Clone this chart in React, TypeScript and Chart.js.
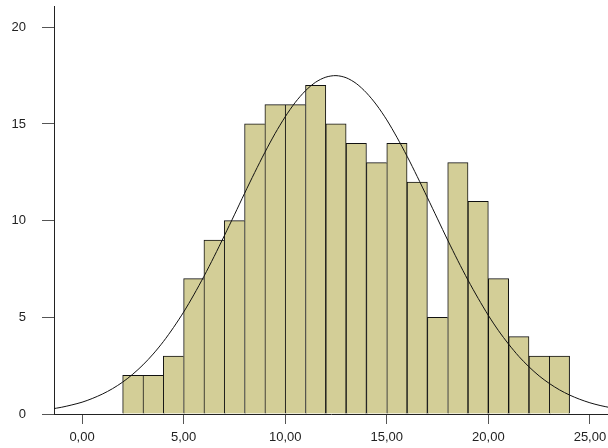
import React, { useEffect, useRef } from "react";
import { Chart, registerables } from "chart.js";

Chart.register(...registerables);

// Histogram bins (lower edges, width 1) and counts
const binStarts = [2, 3, 4, 5, 6, 7, 8, 9, 10, 11, 12, 13, 14, 15, 16, 17, 18, 19, 20, 21, 22, 23];
const binCounts = [2, 2, 3, 7, 9, 10, 15, 16, 16, 17, 15, 14, 13, 14, 12, 5, 13, 11, 7, 4, 3, 3];

// Fitted normal curve
const curveX = [
  -1.5, -1, -0.5, 0, 0.5, 1, 1.5, 2, 2.5, 3, 3.5, 4, 4.5, 5, 5.5, 6, 6.5, 7, 7.5, 8, 8.5, 9, 9.5, 10,
  10.5, 11, 11.5, 12, 12.5, 13, 13.5, 14, 14.5, 15, 15.5, 16, 16.5, 17, 17.5, 18, 18.5, 19, 19.5, 20,
  20.5, 21, 21.5, 22, 22.5, 23, 23.5, 24, 24.5, 25, 25.5, 26,
];
const curveY = [
  0.26, 0.35, 0.47, 0.61, 0.8, 1.03, 1.31, 1.65, 2.06, 2.54, 3.1, 3.74, 4.47, 5.27, 6.16, 7.12, 8.14,
  9.21, 10.3, 11.41, 12.49, 13.53, 14.5, 15.37, 16.12, 16.72, 17.16, 17.42, 17.5, 17.39, 17.09, 16.61,
  15.98, 15.21, 14.31, 13.33, 12.28, 11.19, 10.09, 8.99, 7.93, 6.92, 5.98, 5.1, 4.31, 3.61, 2.98, 2.44,
  1.97, 1.58, 1.25, 0.98, 0.76, 0.58, 0.44, 0.33,
];

const xTicks = [0, 5, 10, 15, 20, 25];
const yTicks = [0, 5, 10, 15, 20];

export default function App() {
  const ref = useRef<HTMLCanvasElement | null>(null);

  useEffect(() => {
    document.body.style.margin = "0";
    const canvas = ref.current;
    if (!canvas) return;
    const last = binCounts.length - 1;
    const chart = new Chart(canvas, {
      type: "bar",
      data: {
        datasets: [
          {
            type: "line",
            data: curveX.map((x, i) => ({ x, y: curveY[i] })),
            borderColor: "#111",
            borderWidth: 1,
            pointRadius: 0,
            tension: 0.3,
            fill: false,
            order: 0,
          } as any,
          {
            type: "bar",
            data: binStarts.map((s, i) => ({ x: s + 0.5, y: binCounts[i] })),
            backgroundColor: "#d3ce97",
            borderColor: "#111",
            borderWidth: (ctx: any) => {
              const i = ctx.dataIndex;
              const lowerNext = i === last || binCounts[i + 1] < binCounts[i];
              return { left: 1, top: 1, right: lowerNext ? 1 : 0, bottom: 0 };
            },
            borderSkipped: false,
            barPercentage: 1,
            categoryPercentage: 1,
            order: 1,
          } as any,
        ],
      },
      options: {
        animation: false,
        responsive: true,
        maintainAspectRatio: false,
        layout: { padding: { top: 6, right: 0, left: 0, bottom: 0 } },
        plugins: { legend: { display: false }, tooltip: { enabled: false } },
        scales: {
          x: {
            type: "linear",
            min: -1.38,
            max: 25.89,
            offset: false,
            afterBuildTicks: (axis: any) => {
              axis.ticks = xTicks.map((v) => ({ value: v }));
            },
            afterFit: (axis: any) => {
              axis.height = 34;
              axis.paddingLeft = 0;
              axis.paddingRight = 0;
            },
            grid: {
              offset: false,
              drawOnChartArea: false,
              drawTicks: true,
              tickLength: 10,
              color: "#555",
            },
            border: { color: "#222", width: 1 },
            ticks: {
              padding: 6,
              color: "#222",
              maxRotation: 0,
              font: { family: "'Liberation Sans', Arial, sans-serif", size: 13 },
              callback: (v: any) => Number(v).toFixed(2).replace(".", ","),
            },
          },
          y: {
            type: "linear",
            min: 0,
            max: 21.1,
            afterBuildTicks: (axis: any) => {
              axis.ticks = yTicks.map((v) => ({ value: v }));
            },
            afterFit: (axis: any) => {
              axis.width = 54;
              axis.paddingTop = 0;
              axis.paddingBottom = 0;
            },
            grid: {
              drawOnChartArea: false,
              drawTicks: true,
              tickLength: 12,
              color: "#555",
            },
            border: { color: "#222", width: 1 },
            ticks: {
              padding: 16,
              color: "#222",
              font: { family: "'Liberation Sans', Arial, sans-serif", size: 13 },
              callback: (v: any) => String(v),
            },
          },
        },
      } as any,
    });
    return () => chart.destroy();
  }, []);

  return (
    <div style={{ position: "absolute", left: 0, top: 0, width: 608, height: 448 }}>
      <canvas ref={ref} />
    </div>
  );
}
